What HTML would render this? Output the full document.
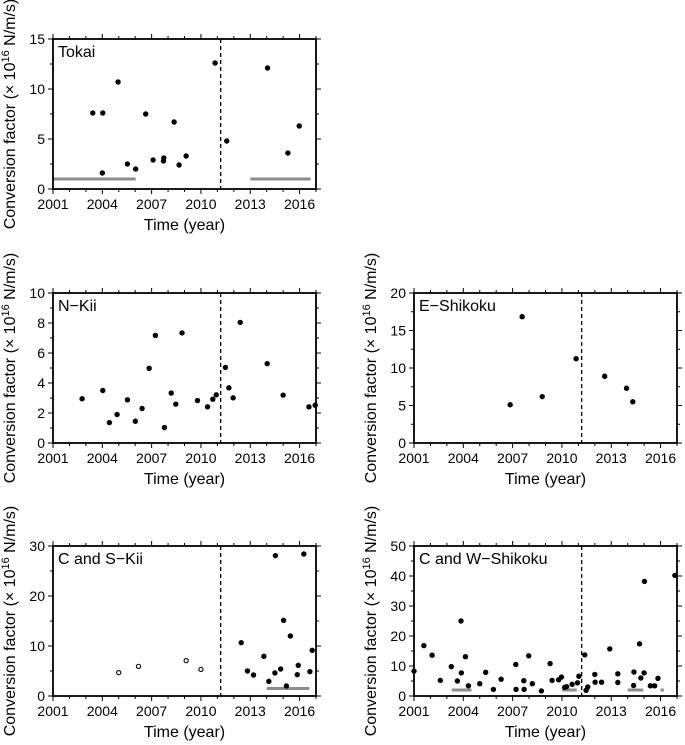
<!DOCTYPE html>
<html><head><meta charset="utf-8"><style>
html,body{margin:0;padding:0;background:#fff;}
svg{display:block;font-family:"Liberation Sans",Arial,sans-serif;}
</style></head><body>
<svg id="fig" width="685" height="745" viewBox="0 0 685 745" xmlns="http://www.w3.org/2000/svg"></svg>
<script>
// Tokai
const tokaiYears=[2003.42,2004.03,2004.0,2004.96,2005.53,2006.03,2006.64,2007.09,2007.72,2007.74,2008.37,2008.67,2009.1,2010.86,2011.57,2014.05,2015.29,2015.98];
const tokaiValues=[7.6,7.6,1.6,10.7,2.5,2.0,7.5,2.9,2.8,3.1,6.7,2.4,3.3,12.6,4.8,12.1,3.6,6.3];
const tokaiBars=[[2001,2006.03,1],[2013,2016.67,1]];
// N-Kii
const nkiiYears=[2002.77,2004.03,2004.43,2004.9,2005.53,2006.01,2006.42,2006.85,2007.23,2007.78,2008.19,2008.47,2008.85,2009.79,2010.4,2010.72,2010.93,2011.49,2011.7,2011.96,2012.39,2014.03,2015.0,2016.57,2016.95];
const nkiiValues=[2.95,3.5,1.36,1.9,2.88,1.45,2.3,4.98,7.17,1.03,3.33,2.59,7.34,2.83,2.41,2.92,3.21,5.04,3.68,3.01,8.04,5.29,3.19,2.41,2.52];
// E-Shikoku
const eshYears=[2006.85,2007.58,2008.8,2010.86,2012.6,2013.93,2014.31];
const eshValues=[5.1,16.84,6.18,11.24,8.9,7.3,5.5];
// C and S-Kii
const cskOpenYears=[2005.0,2006.2,2009.1,2010.0];
const cskOpenValues=[4.67,5.93,7.07,5.33];
const cskYears=[2012.45,2012.83,2013.2,2013.83,2014.13,2014.53,2014.5,2014.85,2015.03,2015.2,2015.44,2015.86,2015.92,2016.26,2016.63,2016.77];
const cskValues=[10.67,5.0,4.2,7.93,2.93,28.07,4.6,5.4,15.13,2.0,12.0,4.27,6.13,28.4,4.87,9.13];
const cskBars=[[2014.0,2016.6,1.5]];
// C and W-Shikoku
const cwsYears=[2001.0,2001.6,2002.1,2002.6,2003.27,2003.64,2003.86,2003.88,2004.13,2004.31,2005.0,2005.36,2005.83,2006.3,2007.19,2007.21,2007.68,2007.7,2007.98,2008.2,2008.75,2009.28,2009.4,2009.8,2009.97,2010.17,2010.28,2010.62,2010.95,2011.03,2011.39,2011.47,2011.57,2012.0,2012.02,2012.41,2012.91,2013.4,2013.4,2014.38,2014.36,2014.72,2014.8,2015.0,2015.02,2015.38,2015.64,2015.84,2016.87];
const cwsValues=[8.3,16.8,13.6,5.2,9.8,5.0,25.0,7.7,13.1,3.4,4.1,7.9,2.2,5.6,10.5,2.2,5.1,2.2,13.4,4.1,1.7,10.8,5.2,5.4,6.3,2.9,3.1,3.9,4.4,6.6,13.7,1.9,3.0,7.2,4.6,4.6,15.7,7.4,4.5,8.0,3.5,17.4,6.0,7.7,38.2,3.4,3.4,5.9,40.2];
const cwsBars=[[2003.3,2004.5,2],[2010.0,2010.9,2],[2014.0,2014.95,2],[2016.0,2016.2,2]];
const xTicks=[2001,2004,2007,2010,2013,2016];
const quake=2011.2;

const NS='http://www.w3.org/2000/svg';
const svg=document.getElementById('fig');
function mk(tag,attrs,parent){const e=document.createElementNS(NS,tag);for(const k in attrs)e.setAttribute(k,attrs[k]);(parent||svg).appendChild(e);return e;}

function panel(o){
  const g=mk('g',{});
  
  
  const L=o.x,T=o.y,W=263,H=150;
  const sx=v=>L+(v-2001)/16*W;
  const sy=v=>T+H-(v/o.ymax)*H;
  for(let y=2001;y<=2017;y++){
    const major=xTicks.includes(y);
    const len=major?5:3;
    mk('line',{x1:sx(y),x2:sx(y),y1:T+H,y2:T+H+len,stroke:'#000','stroke-width':1},g);
    mk('line',{x1:sx(y),x2:sx(y),y1:T,y2:T-len,stroke:'#000','stroke-width':1},g);
  }
  xTicks.forEach(t=>{
    const tx=mk('text',{x:sx(t),y:T+H+20,'text-anchor':'middle','font-size':14},g);
    tx.textContent=t;
    
    
  });
  for(let v=0;v<=o.ymax+1e-9;v+=o.ystep/2){
    const major=Math.abs(v/o.ystep-Math.round(v/o.ystep))<1e-6;
    const len=major?5:3;
    mk('line',{x1:L-len,x2:L,y1:sy(v),y2:sy(v),stroke:'#000','stroke-width':1},g);
    mk('line',{x1:L+W,x2:L+W+len,y1:sy(v),y2:sy(v),stroke:'#000','stroke-width':1},g);
    if(major){
      const tx=mk('text',{x:L-8,y:sy(v)+5,'text-anchor':'end','font-size':14},g);
      tx.textContent=Math.round(v);
      
      
    }
  }
  (o.bars||[]).forEach(b=>{
    const ln=mk('line',{x1:sx(b[0]),x2:sx(b[1]),y1:sy(b[2]),y2:sy(b[2]),stroke:'#8c8c8c','stroke-width':3},g);
    
    
  });
  if(o.quake){
    const d=mk('line',{x1:sx(quake),x2:sx(quake),y1:T,y2:T+H,stroke:'#000','stroke-width':1.3,'stroke-dasharray':'4,3'},g);
    
    
  }
  o.xs.forEach((x,i)=>{
    const c=mk('circle',{cx:sx(x),cy:sy(o.vs[i]),r:2.7,fill:'#000'},g);
    
    
  });
  (o.oxs||[]).forEach((x,i)=>{
    const c=mk('circle',{cx:sx(x),cy:sy(o.ovs[i]),r:2.1,fill:'#fff',stroke:'#000','stroke-width':1.1},g);
    
    
  });
  const box=mk('rect',{x:L,y:T,width:W,height:H,fill:'none',stroke:'#000','stroke-width':1.8},g);
  
  
  const lab=mk('text',{x:L+5,y:T+18,'font-size':16},g);
  lab.textContent=o.label;
  
  
  const xt=mk('text',{x:L+W/2,y:T+H+41,'text-anchor':'middle','font-size':16},g);
  xt.textContent='Time (year)';
  
  
  const yt=mk('text',{x:0,y:0,'text-anchor':'middle','font-size':16,transform:`translate(${L-38},${T+H/2}) rotate(-90)`},g);
  yt.innerHTML='Conversion factor (× 10<tspan font-size="11" dy="-6">16</tspan><tspan dy="6"> N/m/s)</tspan>';
  
  
}
panel({name:'tokai',label:'Tokai',x:53,y:39,ymax:15,ystep:5,xs:tokaiYears,vs:tokaiValues,bars:tokaiBars,quake:true});
panel({name:'n-kii',label:'N\u2212Kii',x:53,y:293,ymax:10,ystep:2,xs:nkiiYears,vs:nkiiValues,quake:true});
panel({name:'e-shikoku',label:'E\u2212Shikoku',x:414,y:293,ymax:20,ystep:5,xs:eshYears,vs:eshValues,quake:true});
panel({name:'c-s-kii',label:'C and S\u2212Kii',x:53,y:546,ymax:30,ystep:10,xs:cskYears,vs:cskValues,oxs:cskOpenYears,ovs:cskOpenValues,bars:cskBars,quake:true});
panel({name:'c-w-shikoku',label:'C and W\u2212Shikoku',x:414,y:546,ymax:50,ystep:10,xs:cwsYears,vs:cwsValues,bars:cwsBars,quake:true});
</script>
</body></html>
